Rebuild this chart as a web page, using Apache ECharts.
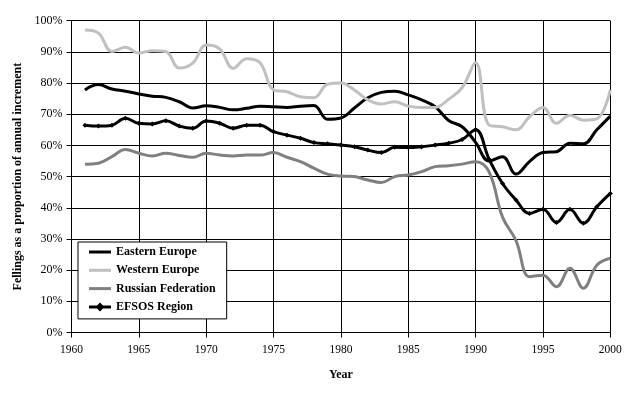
<!DOCTYPE html>
<html>
<head>
<meta charset="utf-8">
<script src="https://cdn.jsdelivr.net/npm/echarts@6/dist/echarts.min.js"></script>
<style>html,body{margin:0;padding:0;background:#fff}#c{width:642px;height:394px}</style>
</head>
<body>
<div id="c"></div>
<script>
var years = [1961,1962,1963,1964,1965,1966,1967,1968,1969,1970,1971,1972,1973,1974,1975,1976,1977,1978,1979,1980,1981,1982,1983,1984,1985,1986,1987,1988,1989,1990,1991,1992,1993,1994,1995,1996,1997,1998,1999,2000];
var easternEurope = [77.8,79.5,78.1,77.4,76.5,75.8,75.4,74.0,72.0,72.7,72.2,71.4,71.9,72.6,72.4,72.2,72.6,72.8,68.4,68.8,72.0,75.3,77.0,77.4,76.2,74.6,72.4,68.0,66.0,61.0,55.0,56.4,50.8,54.8,57.7,58.0,60.7,60.5,65.0,69.4];
var westernEurope = [97.0,96.0,90.1,91.5,89.6,90.4,90.1,84.8,86.4,92.2,91.0,84.7,87.8,86.5,77.8,77.2,75.6,75.3,79.6,80.0,77.8,74.6,73.3,74.0,72.6,72.2,72.2,74.8,78.5,86.5,66.5,66.0,65.0,69.2,72.2,67.1,69.7,68.1,68.5,77.8];
var russianFederation = [54.0,54.3,56.4,58.7,57.5,56.6,57.5,56.8,56.2,57.5,56.9,56.6,56.9,56.9,57.7,56.2,54.8,52.7,50.8,50.2,50.0,48.9,48.1,50.0,50.5,51.6,53.2,53.5,54.0,54.8,51.5,37.0,29.5,17.9,18.4,14.7,20.6,14.2,21.6,23.8];
var efsosRegion = [66.5,66.2,66.5,68.7,67.1,66.9,67.9,66.2,65.5,67.8,67.1,65.5,66.5,66.5,64.4,63.3,62.3,60.9,60.5,60.1,59.6,58.5,57.7,59.4,59.3,59.6,60.1,60.7,61.9,65.0,55.6,47.8,42.5,38.2,39.5,35.3,39.5,35.0,40.3,44.6];
var seriesNames = ['Eastern Europe','Western Europe','Russian Federation','EFSOS Region'];
var yTicks = [0,10,20,30,40,50,60,70,80,90,100];

function pairs(vals){ return years.map(function(y,i){ return [y, vals[i]]; }); }

var serif = 'Liberation Serif, Times New Roman, serif';
var lineIcon = 'path://M0,5 L22,5 L22,8 L0,8 Z';
var markIcon = 'path://M0,5 L8,5 L11,2 L14,5 L22,5 L22,8 L14,8 L11,11 L8,8 L0,8 Z';
var chart = echarts.init(document.getElementById('c'), null, {renderer:'canvas'});
function lineSeries(name, vals, color, extra){
  var s = {
    name: name, type: 'line', data: pairs(vals), smooth: 0.4,
    showSymbol: false, symbol: 'none',
    lineStyle: {color: color, width: 3}, itemStyle: {color: color},
    emphasis: {disabled: true}, z: 3
  };
  for (var k in extra) s[k] = extra[k];
  return s;
}
chart.setOption({
  animation: false,
  backgroundColor: '#ffffff',
  grid: {left: 71.5, right: 31.7, top: 20.7, bottom: 61.5, containLabel: false},
  legend: {
    orient: 'vertical', left: 78, top: 242,
    data: [
      {name: seriesNames[0], icon: lineIcon},
      {name: seriesNames[1], icon: lineIcon},
      {name: seriesNames[2], icon: lineIcon},
      {name: seriesNames[3], icon: markIcon}
    ],
    backgroundColor: '#ffffff',
    borderColor: '#000', borderWidth: 1,
    padding: [4, 11, 6, 11],
    itemGap: 6.3, itemWidth: 22, itemHeight: 13,
    textStyle: {fontFamily: serif, fontWeight: 'bold', fontSize: 12, color: '#000'}
  },
  xAxis: {
    type: 'value', min: 1960, max: 2000, interval: 5,
    name: 'Year', nameLocation: 'middle', nameGap: 36,
    nameTextStyle: {fontFamily: serif, fontWeight: 'bold', fontSize: 12, color: '#000'},
    axisLine: {show: true, lineStyle: {color: '#000', width: 1}},
    axisTick: {show: true, length: 5, lineStyle: {color: '#000'}},
    axisLabel: {fontFamily: serif, fontSize: 11.5, color: '#000', margin: 11,
      formatter: function(v){ return String(v); }},
    splitLine: {show: true, lineStyle: {color: '#000', width: 1}}
  },
  yAxis: {
    type: 'value', min: 0, max: 100, interval: 10,
    name: 'Fellings as a proportion of annual increment', nameLocation: 'middle', nameGap: 46,
    nameTextStyle: {fontFamily: serif, fontWeight: 'bold', fontSize: 12, color: '#000'},
    axisLine: {show: true, lineStyle: {color: '#000', width: 1}},
    axisTick: {show: true, length: 5, lineStyle: {color: '#000'}},
    axisLabel: {fontFamily: serif, fontSize: 12, color: '#000', margin: 9,
      formatter: function(v){ return yTicks.indexOf(v) >= 0 ? v + '%' : ''; }},
    splitLine: {show: true, lineStyle: {color: '#000', width: 1}}
  },
  series: [
    lineSeries(seriesNames[0], easternEurope, '#000000', {}),
    lineSeries(seriesNames[1], westernEurope, '#c0c0c0', {}),
    lineSeries(seriesNames[2], russianFederation, '#808080', {}),
    lineSeries(seriesNames[3], efsosRegion, '#000000', {showSymbol: true, symbol: 'diamond', symbolSize: 5})
  ]
});
</script>
</body>
</html>
